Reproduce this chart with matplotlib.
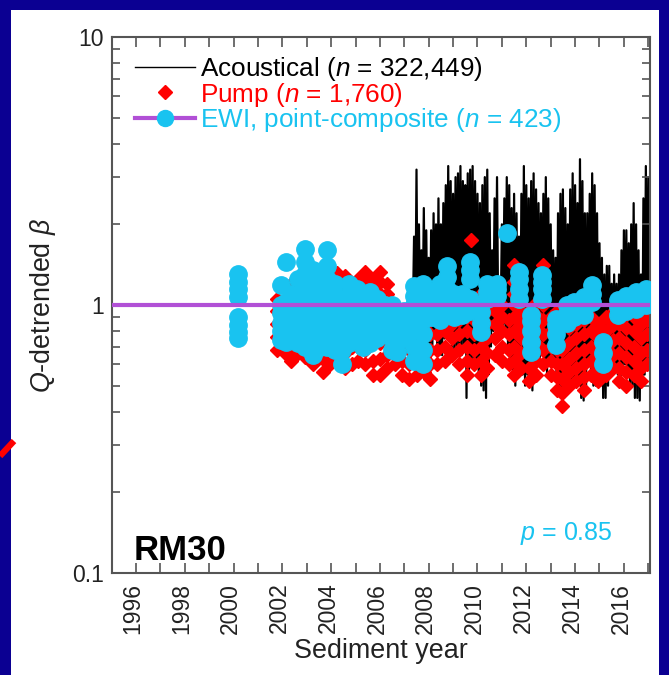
import numpy as np
import matplotlib
matplotlib.use('Agg')
import matplotlib.pyplot as plt
import matplotlib.transforms as mtransforms
from matplotlib.lines import Line2D
from matplotlib.patches import Rectangle
from matplotlib.ticker import FixedLocator, LogLocator, FuncFormatter, MultipleLocator, NullFormatter

plt.rcParams['font.family'] = ['Liberation Sans', 'DejaVu Sans']
plt.rcParams['mathtext.fontset'] = 'custom'
plt.rcParams['mathtext.rm'] = 'Liberation Sans'
plt.rcParams['mathtext.it'] = 'Liberation Sans:italic'
plt.rcParams['mathtext.bf'] = 'Liberation Sans:bold'

# acoustical record, read as upper / lower envelope every 0.1 yr
acou_year = [2007.3, 2007.4, 2007.5, 2007.6, 2007.7, 2007.8, 2007.9,
             2008.0, 2008.1, 2008.2, 2008.3, 2008.4, 2008.5, 2008.6, 2008.7, 2008.8, 2008.9,
             2009.0, 2009.1, 2009.2, 2009.3, 2009.4, 2009.5, 2009.6, 2009.7, 2009.8, 2009.9,
             2010.0, 2010.1, 2010.2, 2010.3, 2010.4, 2010.5, 2010.6, 2010.7, 2010.8, 2010.9,
             2011.0, 2011.1, 2011.2, 2011.3, 2011.4, 2011.5, 2011.6, 2011.7, 2011.8, 2011.9,
             2012.0, 2012.1, 2012.2, 2012.3, 2012.4, 2012.5, 2012.6, 2012.7, 2012.8, 2012.9,
             2013.0, 2013.1, 2013.2, 2013.3, 2013.4, 2013.5, 2013.6, 2013.7, 2013.8, 2013.9,
             2014.0, 2014.1, 2014.2, 2014.3, 2014.4, 2014.5, 2014.6, 2014.7, 2014.8, 2014.9,
             2015.0, 2015.1, 2015.2, 2015.3, 2015.4, 2015.5, 2015.6, 2015.7, 2015.8, 2015.9,
             2016.0, 2016.1, 2016.2, 2016.3, 2016.4, 2016.5, 2016.6, 2016.7, 2016.8, 2016.9,
             2017.0, 2017.1]
acou_hi = [1.2, 1.8, 3.2, 2.0, 1.6, 2.3, 1.9,
           1.5, 1.9, 2.2, 2.0, 2.5, 2.0, 2.4, 2.8, 3.3, 2.9,
           2.6, 3.0, 3.1, 3.3, 2.9, 2.8, 3.1, 3.2, 3.3, 2.9,
           2.6, 2.4, 2.8, 3.0, 3.2, 2.2, 1.6, 2.5, 3.0, 1.2,
           2.0, 2.5, 3.0, 2.8, 2.3, 2.6, 2.2, 1.8, 2.6, 3.3,
           2.8, 2.5, 2.9, 3.1, 2.7, 2.4, 2.2, 2.6, 3.0, 2.5,
           2.0, 1.6, 1.5, 2.2, 2.6, 2.7, 2.3, 2.0, 2.7, 3.1,
           2.8, 2.4, 3.5, 2.9, 2.2, 2.2, 2.6, 3.1, 2.8, 2.2,
           1.7, 1.5, 1.3, 1.4, 1.4, 1.2, 1.3, 1.2, 1.3, 1.6,
           1.9, 1.9, 1.7, 2.0, 2.4, 2.0, 1.6, 1.3, 2.5, 3.3,
           3.0, 2.5]
acou_lo = [0.9, 0.8, 0.75, 0.8, 0.85, 0.8, 0.7,
           0.65, 0.7, 0.75, 0.7, 0.65, 0.65, 0.75, 0.8, 0.75, 0.7,
           0.65, 0.7, 0.7, 0.65, 0.7, 0.45, 0.55, 0.6, 0.6, 0.6,
           0.55, 0.5, 0.48, 0.45, 0.55, 0.7, 0.8, 0.8, 0.85, 0.9,
           0.85, 0.8, 0.7, 0.6, 0.55, 0.5, 0.55, 0.6, 0.55, 0.5,
           0.55, 0.5, 0.48, 0.55, 0.6, 0.6, 0.65, 0.6, 0.55, 0.6,
           0.65, 0.6, 0.55, 0.5, 0.45, 0.45, 0.5, 0.55, 0.5, 0.5,
           0.55, 0.5, 0.45, 0.44, 0.5, 0.6, 0.55, 0.5, 0.5, 0.55,
           0.5, 0.45, 0.45, 0.5, 0.55, 0.6, 0.6, 0.55, 0.5, 0.55,
           0.6, 0.55, 0.5, 0.5, 0.45, 0.45, 0.44, 0.5, 0.55, 0.6,
           0.6, 0.6]

# pump samples, grouped by sampling time
pump_year = [2001.8, 2002.1, 2002.35, 2002.65, 2002.95, 2003.25, 2003.65, 2003.95,
             2004.25, 2004.55, 2004.85, 2005.1, 2005.4, 2005.7, 2006.0, 2006.3,
             2006.6, 2006.9, 2007.2, 2007.5, 2007.8, 2008.05, 2008.35, 2008.65,
             2008.95, 2009.25, 2009.55, 2009.75, 2009.85, 2010.15, 2010.4, 2010.7,
             2011.0, 2011.3, 2011.5, 2011.8, 2012.1, 2012.4, 2012.7, 2013.0,
             2013.25, 2013.45, 2013.75, 2014.05, 2014.35, 2014.65, 2014.95, 2015.25,
             2015.55, 2015.8, 2016.1, 2016.4, 2016.7, 2016.95]
pump_vals = [[0.68, 0.76, 0.85, 0.95, 1.05], [0.66, 0.74, 0.84],
             [0.62, 0.7, 0.8, 0.9, 1.0, 1.1, 1.2], [0.66, 0.75, 0.85, 0.95, 1.05, 1.15],
             [0.64, 0.72, 0.8], [0.6, 0.68, 0.78],
             [0.56, 0.63, 0.7, 0.8, 1.05, 1.2], [0.6, 0.7, 1.1, 1.25],
             [0.62, 0.7, 0.8, 1.1, 1.2, 1.32], [0.58, 0.66, 1.1, 1.2, 1.28],
             [0.6, 0.7, 0.8, 1.1, 1.2], [0.62, 0.7, 0.8, 1.05, 1.15, 1.25],
             [0.6, 0.68, 0.78, 1.1, 1.2, 1.33], [0.55, 0.62, 0.72, 1.05, 1.15, 1.25],
             [0.55, 0.63, 0.72, 1.1, 1.22, 1.33], [0.58, 0.65, 0.75, 1.0, 1.1, 1.2],
             [0.6, 0.7, 0.8, 0.9], [0.55, 0.62, 0.7, 0.8],
             [0.53, 0.6, 0.68], [0.55, 0.62, 0.72],
             [0.56, 0.64], [0.53, 0.6, 0.68, 0.78, 0.88],
             [0.6, 0.68, 0.78, 0.88, 0.98], [0.62, 0.7, 0.8, 0.9],
             [0.65, 0.75, 0.85, 0.95], [0.6, 0.68, 0.78, 0.88, 0.98],
             [0.55, 0.62, 0.7, 0.8, 0.9, 1.0], [1.75],
             [0.6, 0.68, 0.78, 0.88, 1.0], [0.55, 0.62, 0.7, 0.8, 0.9, 1.0, 1.1],
             [0.58, 0.66, 0.75, 0.85, 0.95], [0.65, 0.75, 0.85, 0.95],
             [0.62, 0.7, 0.8, 0.9, 1.0], [0.6, 0.68, 0.78, 0.88],
             [0.55, 0.62, 0.7, 0.8, 0.9, 1.0, 1.1, 1.22, 1.41], [0.58, 0.66, 0.75, 0.85, 0.95],
             [0.52, 0.58, 0.66, 0.75, 0.85, 0.95], [0.55, 0.62, 0.72, 0.82, 0.92, 1.02],
             [0.6, 0.68, 0.78, 0.88, 1.0, 1.12, 1.25, 1.41], [0.55, 0.62, 0.7, 0.8, 0.9],
             [0.48, 0.54, 0.6, 0.68, 0.78, 0.88, 0.95], [0.42, 0.47, 0.53, 0.6, 0.68],
             [0.5, 0.56, 0.63, 0.72, 0.82, 0.92], [0.52, 0.58, 0.66, 0.75, 0.85, 0.95],
             [0.48, 0.54, 0.6, 0.68, 0.78, 0.88], [0.55, 0.62, 0.7, 0.8, 0.9, 1.0],
             [0.52, 0.58, 0.66, 0.75, 0.85], [0.55, 0.62, 0.7, 0.8, 0.9],
             [0.58, 0.65, 0.74, 0.84, 0.94], [0.52, 0.58, 0.66, 0.75, 0.85, 0.95],
             [0.5, 0.56, 0.64, 0.72, 0.82, 0.92], [0.55, 0.62, 0.7, 0.8, 0.9, 1.0],
             [0.52, 0.58, 0.66, 0.75, 0.85, 0.95], [0.6, 0.68, 0.78, 0.88, 1.0]]

# EWI samples, grouped by sampling time
ewi_year = [2000.2, 2001.95, 2002.15, 2002.4, 2002.65, 2002.95, 2003.25, 2003.55,
            2003.85, 2004.15, 2004.45, 2004.75, 2005.05, 2005.3, 2005.6, 2005.9,
            2006.2, 2006.5, 2006.7, 2007.0, 2007.4, 2007.75, 2008.15, 2008.45,
            2008.75, 2009.05, 2009.35, 2009.7, 2010.15, 2010.4, 2010.8, 2011.2,
            2011.7, 2012.2, 2012.65, 2013.2, 2013.65, 2013.95, 2014.35, 2014.7,
            2015.15, 2015.75, 2016.1, 2016.5, 2016.9]
ewi_vals = [[0.75, 0.79, 0.84, 0.9, 1.07, 1.15, 1.22, 1.3],
            [0.74, 0.8, 0.86, 0.93, 1.0, 1.19], [0.73, 0.8, 0.88, 0.95, 1.03, 1.45],
            [0.75, 0.82, 0.9, 1.0, 1.1], [0.72, 0.8, 0.9, 1.0, 1.1, 1.25],
            [0.7, 0.78, 0.86, 0.95, 1.05, 1.15, 1.3, 1.45, 1.62],
            [0.65, 0.72, 0.8, 0.9, 1.0, 1.1, 1.2, 1.35], [0.7, 0.8, 0.9, 1.0, 1.1, 1.25],
            [0.7, 0.8, 0.9, 1.0, 1.1, 1.25, 1.4, 1.6], [0.68, 0.78, 0.88, 1.0, 1.1, 1.2],
            [0.6, 0.68, 0.76, 0.85, 0.95, 1.05], [0.72, 0.8, 0.9, 1.0, 1.1, 1.2],
            [0.75, 0.85, 0.95, 1.05, 1.15], [0.7, 0.78, 0.88, 0.98, 1.08],
            [0.72, 0.82, 0.92, 1.02, 1.12], [0.75, 0.85, 0.95, 1.05],
            [0.8, 0.9, 1.0], [0.68, 0.75, 0.82, 0.9, 1.0],
            [0.67, 0.75, 0.85, 0.95], [0.75, 0.85, 0.95],
            [0.62, 0.7, 0.8, 0.9, 1.0, 1.08, 1.18], [0.6, 0.68, 0.78, 0.88, 1.0, 1.1, 1.2],
            [0.9, 1.0, 1.1], [0.88, 0.98, 1.1, 1.2],
            [0.95, 1.05, 1.15, 1.27, 1.4], [0.9, 1.0, 1.1],
            [0.92, 1.02, 1.1], [0.95, 1.05, 1.25, 1.35, 1.45],
            [0.79, 0.86, 0.94], [1.05, 1.12, 1.2],
            [1.08, 1.15, 1.2], [1.85],
            [1.05, 1.15, 1.25, 1.33], [0.67, 0.73, 0.8, 0.87, 0.92],
            [1.05, 1.15, 1.22, 1.29], [0.71, 0.78, 0.84, 0.89],
            [0.86, 0.93, 1.0], [0.9, 0.97, 1.03],
            [0.92, 1.0, 1.07], [1.03, 1.1, 1.19],
            [0.6, 0.66, 0.73], [0.92, 0.98, 1.04],
            [0.95, 1.02, 1.08], [0.97, 1.05, 1.12],
            [1.0, 1.08, 1.15]]
ewi_composite = 1.0

NAVY = '#0b0092'
CYAN = '#19c3f0'
PURPLE = '#b150d6'
GREY = '#555555'

fig = plt.figure(figsize=(6.69, 6.75), dpi=100, facecolor=NAVY)
fig.add_artist(Rectangle((11 / 669, 0), 648 / 669, 665 / 675, transform=fig.transFigure,
                         facecolor='white', edgecolor='none', zorder=-5))
# red arrow stub at the left edge of the slide
fig.add_artist(Line2D([0, 14 / 669], [1 - 456 / 675, 1 - 441 / 675], transform=fig.transFigure,
                      color='red', lw=4.5, solid_capstyle='butt'))

ax = fig.add_axes([112 / 669, 102 / 675, 538 / 669, 536 / 675])

# acoustical: zigzag between the two envelopes
zig_t = np.column_stack([acou_year, np.array(acou_year) + 0.05]).ravel()
zig_v = np.column_stack([acou_hi, acou_lo]).ravel()
ax.plot(zig_t, zig_v, color='black', lw=1.6, zorder=1)

pump_t, pump_v = [], []
for yr, vals in zip(pump_year, pump_vals):
    pump_t += [yr] * len(vals)
    pump_v += vals
ax.plot(pump_t, pump_v, 'D', color='red', ms=7.6, mec='red', ls='none', zorder=2)

ewi_t, ewi_v = [], []
for yr, vals in zip(ewi_year, ewi_vals):
    ewi_t += [yr] * len(vals)
    ewi_v += vals
ax.plot(ewi_t, ewi_v, 'o', color=CYAN, ms=12.5, mec=CYAN, ls='none', zorder=3)
ax.axhline(ewi_composite, color=PURPLE, lw=3, zorder=4)

ax.set_yscale('log')
ax.set_ylim(0.1, 10)
ax.set_xlim(1995.02, 2017.07)
ax.yaxis.set_major_locator(FixedLocator([0.1, 1, 10]))
ax.yaxis.set_major_formatter(FuncFormatter(lambda v, p: f'{v:g}'))
ax.yaxis.set_minor_locator(LogLocator(base=10, subs=np.arange(2, 10)))
ax.yaxis.set_minor_formatter(NullFormatter())
ax.xaxis.set_major_locator(MultipleLocator(2))
ax.xaxis.set_minor_locator(MultipleLocator(1))

ax.tick_params(which='both', direction='in', top=True, right=True, color=GREY, width=1.2,
               labelcolor='#222222')
ax.tick_params(axis='x', which='both', length=7, labelsize=16.5, pad=7, labelrotation=90)
ax.tick_params(axis='y', which='major', length=9, labelsize=16.5, pad=6)
ax.tick_params(axis='y', which='minor', length=6)
for lab in ax.get_xticklabels():
    lab.set_transform(lab.get_transform() + mtransforms.ScaledTranslation(-3 / 100, 0, fig.dpi_scale_trans))
for sp in ax.spines.values():
    sp.set_color(GREY)
    sp.set_linewidth(1.5)

ax.set_xlabel('Sediment year', fontsize=19.4, color='#222222')
ax.xaxis.set_label_coords(0.5, -0.122)
ax.set_ylabel(r'$Q$-detrended $\beta$', fontsize=19.4, color='#222222')
ax.yaxis.set_label_coords(-0.1, 0.5)

ax.text(0.041, 0.024, 'RM30', transform=ax.transAxes, fontsize=25, fontweight='bold',
        color='black', va='baseline', ha='left')
ax.text(0.931, 0.062, r'$p$ = 0.85', transform=ax.transAxes, fontsize=18, color=CYAN,
        va='baseline', ha='right')

handles = [Line2D([], [], color='black', lw=1),
           Line2D([], [], color='red', marker='D', ms=7, ls='none'),
           Line2D([], [], color=PURPLE, lw=3, marker='o', ms=11.5, mfc=CYAN, mec=CYAN)]
labels = [r'Acoustical ($n$ = 322,449)', r'Pump ($n$ = 1,760)',
          r'EWI, point-composite ($n$ = 423)']
leg = ax.legend(handles, labels, loc='upper left', bbox_to_anchor=(0.043, 0.966),
                frameon=False, fontsize=18.8, handlelength=2.3, handletextpad=0.2,
                labelspacing=-0.1, borderpad=0, borderaxespad=0)
for txt, col in zip(leg.get_texts(), ['black', 'red', CYAN]):
    txt.set_color(col)

fig.savefig('out.png', dpi=100, facecolor=NAVY)
